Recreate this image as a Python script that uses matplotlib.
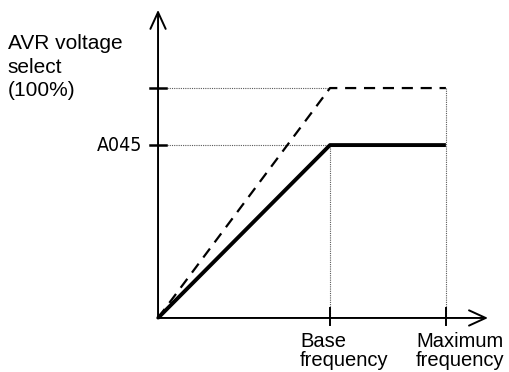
import matplotlib
matplotlib.use("Agg")
import matplotlib.pyplot as plt

# Data (frequency relative to base, voltage relative to AVR select)
freq_points = [0.0, 1.0, 1.674]
volt_avr = [0.0, 1.0, 1.0]
volt_a045 = [0.0, 0.752, 0.752]
x_tick_vals = [1.0, 1.674]
x_tick_labels = ["Base\nfrequency", "Maximum\nfrequency"]
y_tick_vals = [1.0, 0.752]
y_tick_labels = ["", "A045"]
y_title = "AVR voltage\nselect\n(100%)"

fig = plt.figure(figsize=(5.09, 3.72), dpi=100)
ax = fig.add_axes([0, 0, 1, 1])
ax.set_xlim(-0.919, 2.041)
ax.set_ylim(-0.235, 1.383)
ax.axis("off")

# guide lines
base_f, max_f = x_tick_vals
for yv in y_tick_vals:
    ax.plot([0.05, base_f], [yv, yv], ls=(0, (1, 1)), lw=0.8, color="0.35")
ax.plot([base_f, base_f], [0, volt_a045[1]], ls=(0, (1, 1)), lw=0.8, color="0.35")
ax.plot([max_f, max_f], [0, volt_avr[2]], ls=(0, (1, 1)), lw=0.8, color="0.35")

# curves
ax.plot(freq_points, volt_avr, color="black", lw=1.6, ls=(0, (5, 3.5)),
        solid_joinstyle="round")
ax.plot(freq_points, volt_a045, color="black", lw=2.8, solid_joinstyle="round",
        solid_capstyle="butt")

# axes with arrows
arrow = dict(arrowstyle="->,head_length=1.2,head_width=0.55", lw=1.4, color="black",
             shrinkA=0, shrinkB=0)
ax.annotate("", xy=(0, 1.34), xytext=(0, -0.003), arrowprops=arrow)
ax.annotate("", xy=(1.919, 0), xytext=(-0.005, 0), arrowprops=arrow)

# ticks
for xv, lab in zip(x_tick_vals, x_tick_labels):
    ax.plot([xv, xv], [-0.03, 0.045], color="black", lw=1.4)
    ax.text(xv - 0.174, -0.063, lab, ha="left", va="top", fontsize=14.5,
            family="Liberation Sans", linespacing=0.95)
for yv, lab in zip(y_tick_vals, y_tick_labels):
    ax.plot([-0.047, 0.047], [yv, yv], color="black", lw=1.8)
    if lab:
        ax.text(-0.09, yv, lab, ha="right", va="center", fontsize=14,
                family="DejaVu Sans", fontstretch="condensed")

ax.text(-0.873, 1.235, y_title, ha="left", va="top", fontsize=15,
        family="Liberation Sans", linespacing=1.3)

fig.savefig("out.png", dpi=100)
